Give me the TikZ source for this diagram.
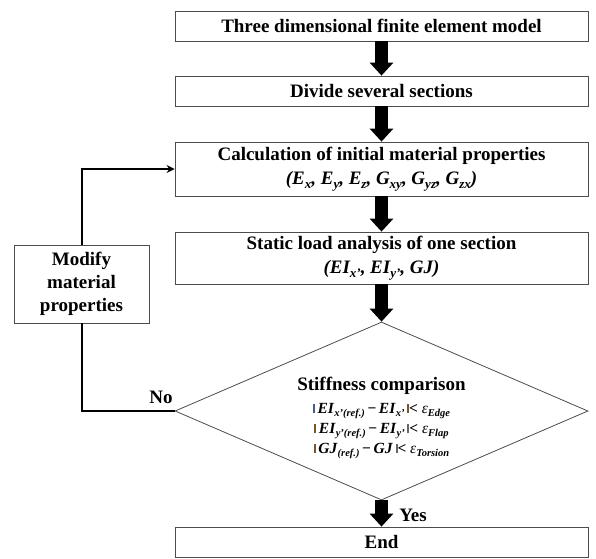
\documentclass[tikz,border=0pt]{standalone}
\usepackage{fontspec}
\setmainfont{Liberation Serif}
\usetikzlibrary{shapes.geometric,arrows.meta}
\definecolor{barblue}{RGB}{70,90,140}
\definecolor{barbrown}{RGB}{120,85,45}
\newcommand\lowsub[2][10.5]{\raisebox{-0.45ex}{\fontsize{#1}{#1}\selectfont\bfseries\itshape #2}}
\newcommand\epsub[1]{{\mdseries\itshape ε}\lowsub{#1}}
\newcommand\vbar[1]{\textcolor{#1}{\rule[0.5pt]{2pt}{9pt}}}

\begin{document}
\begin{tikzpicture}[x=1pt,y=-1pt,
    stage/.style={draw=black!70,line width=0.8pt,minimum width=413pt,inner sep=0pt,align=center,
                  font=\bfseries\fontsize{19}{24}\selectfont},
    decision/.style={diamond,aspect=2.32,draw=black!70,line width=0.8pt,minimum width=413pt,minimum height=178pt,
                  inner sep=0pt,align=center,font=\bfseries\fontsize{19}{24}\selectfont},
    lbl/.style={font=\bfseries\fontsize{19}{24}\selectfont,inner sep=0pt},
    fat/.style={line width=13pt,-{Triangle[length=13pt,width=23pt]}},
    loopline/.style={line width=2pt}]
    \useasboundingbox (0,0) rectangle (596,558);
    % main column
    \node[stage,minimum height=30pt] (model) at (381.5,26) {Three dimensional finite element model};
    \node[stage,minimum height=30pt] (divide) at (381.5,91) {Divide several sections};
    \node[stage,minimum height=54pt] (calc) at (381.5,169)
        {Calculation of initial material properties\\
         {\itshape (E\lowsub[13]{x}, E\lowsub[13]{y}, E\lowsub[13]{z}, G\lowsub[13]{xy}, G\lowsub[13]{yz}, G\lowsub[13]{zx})}};
    \node[stage,minimum height=52pt] (static) at (381.5,258)
        {Static load analysis of one section\\
         {\itshape (EI\lowsub[13]{x'}, EI\lowsub[13]{y'}, GJ)}};
    \node[decision] (cmp) at (381.5,411)
        {\rule{0pt}{28pt}Stiffness comparison\\[4pt]
         {\fontsize{15.5}{20}\selectfont
          \begin{tabular}{@{}c@{}}
          \vbar{barblue}\,\textit{EI}\lowsub{x'(ref.)}\,−\,\textit{EI}\lowsub{x'}\,\vbar{barbrown}< \epsub{Edge}\\
          \vbar{barbrown}\,\textit{EI}\lowsub{y'(ref.)}\,−\,\textit{EI}\lowsub{y'}\,\vbar{black!60}< \epsub{Flap}\\
          \vbar{barbrown}\,\textit{GJ}\lowsub{(ref.)}\,−\,\textit{GJ}\,\vbar{black!60}< \epsub{Torsion}
          \end{tabular}}};
    \node[stage,minimum height=30pt] (done) at (381.5,542) {End};
    % feedback
    \node[stage,minimum width=135pt,minimum height=78pt,font=\bfseries\fontsize{19}{23}\selectfont] (modify) at (81.5,284)
        {Modify\\material\\properties};

    \draw[fat] (model) -- (divide);
    \draw[fat] (divide) -- (calc);
    \draw[fat] (calc) -- (static);
    \draw[fat] (static) -- (cmp);
    \draw[fat] (cmp.south) -- (done);

    \draw[loopline] (cmp.west) -| (modify.south);
    \draw[loopline,-{Stealth[length=8pt,width=8pt]}] (modify.north) |- (calc.west);

    \node[lbl] (no) at (161,397) {No};
    \node[lbl] (yes) at (413,515) {Yes};
\end{tikzpicture}
\end{document}
